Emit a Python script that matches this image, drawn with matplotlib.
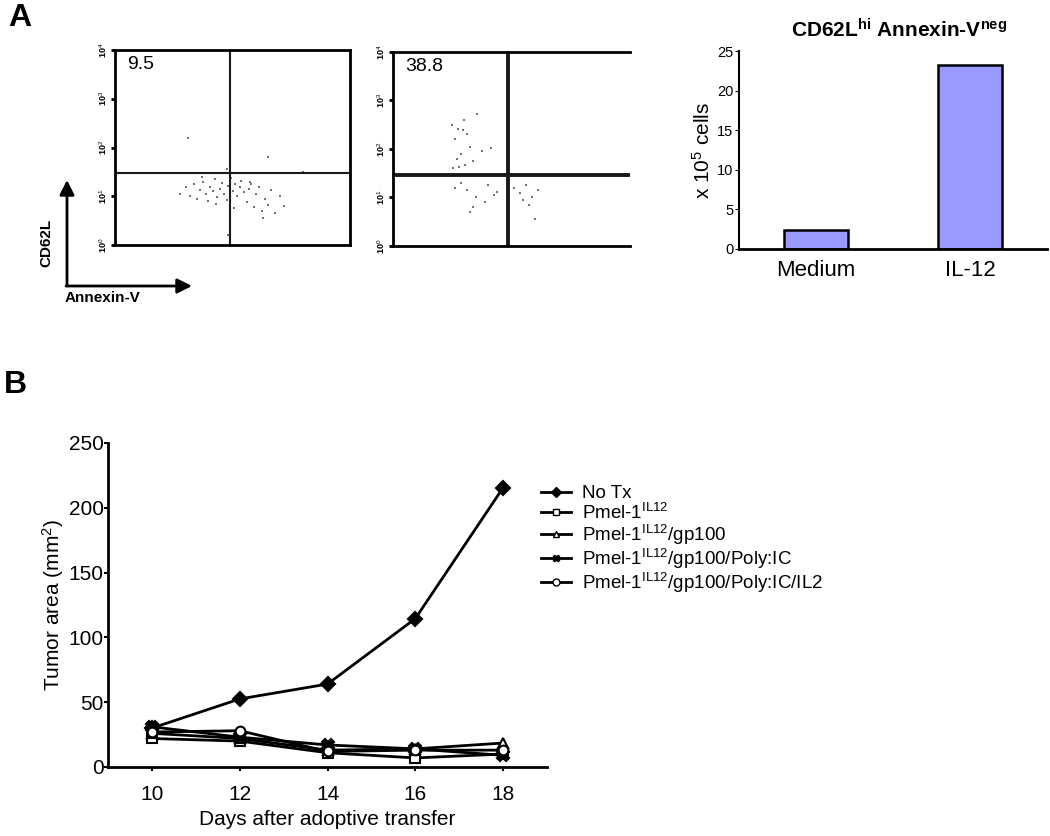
import numpy as np
import matplotlib
matplotlib.use("Agg")
import matplotlib.pyplot as plt
from matplotlib.lines import Line2D

plt.rcParams['font.family'] = ['Liberation Sans', 'DejaVu Sans']
plt.rcParams['mathtext.fontset'] = 'custom'
plt.rcParams['mathtext.rm'] = 'Liberation Sans'
plt.rcParams['mathtext.it'] = 'Liberation Sans'
plt.rcParams['mathtext.bf'] = 'Liberation Sans:bold'

# ---------------------------------------------------------
# Data
# ---------------------------------------------------------
# flow plots (log decades 0..4), quadrant percentages
flow1_pct = "9.5"
flow2_pct = "38.8"
flow1_gate = (1.96, 1.48)
flow2_gate = (1.94, 1.46)
flow1_x = [1.10, 1.20, 1.28, 1.35, 1.40, 1.45, 1.50, 1.55, 1.58, 1.62, 1.66, 1.70,
           1.74, 1.78, 1.82, 1.86, 1.90, 1.93, 1.97, 2.00, 2.04, 2.08, 2.12, 2.15,
           2.20, 2.24, 2.28, 2.32, 2.36, 2.40, 2.45, 2.50, 2.55, 2.60, 2.66, 2.72,
           2.80, 2.88, 1.48, 1.72, 2.02, 2.30, 2.52, 1.90, 3.20, 1.25, 2.60, 1.92]
flow1_y = [1.05, 1.18, 1.00, 1.25, 0.95, 1.12, 1.30, 1.05, 0.90, 1.20, 1.10, 1.35,
           0.98, 1.15, 1.28, 1.05, 0.92, 1.22, 1.38, 1.10, 1.25, 1.00, 1.18, 1.32,
           1.08, 0.88, 1.15, 1.25, 0.78, 1.05, 1.20, 0.70, 0.95, 0.82, 1.12, 0.65,
           1.00, 0.80, 1.40, 0.85, 0.75, 1.30, 0.55, 1.55, 1.50, 2.20, 1.80, 0.20]
flow2_x = [1.00, 1.10, 1.18, 1.05, 1.25, 1.42, 1.15, 1.30, 1.08, 1.22, 1.65, 1.12,
           1.35, 1.02, 1.20, 1.50, 1.05, 1.25, 1.40, 1.60, 1.70, 1.75, 1.55, 1.35,
           1.15, 2.15, 2.25, 2.35, 2.45, 2.30, 2.20, 2.05, 1.30, 2.40]
flow2_y = [2.50, 2.42, 2.40, 2.20, 2.30, 2.72, 1.90, 2.05, 1.80, 1.68, 2.02, 1.63,
           1.75, 1.60, 2.60, 1.95, 1.20, 1.15, 1.00, 1.25, 1.05, 1.12, 0.90, 0.80,
           1.30, 1.10, 1.25, 1.00, 1.15, 0.85, 0.95, 1.20, 0.70, 0.55]
decades = [0, 1, 2, 3, 4]

# bar chart
bar_groups = ["Medium", "IL-12"]
bar_values = [2.4, 23.2]

# tumor growth
days = [10, 12, 14, 16, 18]
series_names = ["No Tx",
                "Pmel-1$^{\\mathrm{IL12}}$",
                "Pmel-1$^{\\mathrm{IL12}}$/gp100",
                "Pmel-1$^{\\mathrm{IL12}}$/gp100/Poly:IC",
                "Pmel-1$^{\\mathrm{IL12}}$/gp100/Poly:IC/IL2"]
tumor_area = [
    [30, 52.5, 64, 114.5, 215.5],
    [22, 20, 11, 7, 10],
    [26, 22, 13, 14, 18.5],
    [31, 23, 17, 14, 9],
    [27, 28, 12, 13, 13],
]
markers = ['D', 's', '^', 'X', 'o']
marker_fill = ['black', 'white', 'white', 'black', 'white']

# ---------------------------------------------------------
# Figure
# ---------------------------------------------------------
W, H = 1050, 836
fig = plt.figure(figsize=(W / 100, H / 100), dpi=100)


def box(x0, y0, x1, y1):
    # pixel box -> figure fraction rect
    return [x0 / W, 1 - y1 / H, (x1 - x0) / W, (y1 - y0) / H]


def px(x, y):
    return (x / W, 1 - y / H)


# ---- flow plots ----
def flow_panel(rect, xs, ys, gate, pct, right_spine, lw):
    ax = fig.add_axes(rect)
    ax.set_xlim(0, 4)
    ax.set_ylim(0, 4)
    ax.scatter(xs, ys, s=4, c='0.45', marker='s', linewidths=0)
    ax.axvline(gate[0], color='0.1', lw=lw)
    ax.axhline(gate[1], color='0.1', lw=lw)
    for s in ax.spines.values():
        s.set_linewidth(2)
    ax.spines['right'].set_visible(right_spine)
    ax.set_xticks([])
    ax.set_yticks(decades)
    ax.set_yticklabels(["10$^{%d}$" % d for d in decades], fontsize=6.5,
                       fontweight='bold', rotation=90, va='center')
    ax.tick_params(axis='y', length=3, width=2, pad=1)
    ax.text(0.05, 0.97, pct, transform=ax.transAxes, fontsize=14,
            va='top', ha='left')
    return ax


flow_panel(box(115, 50, 350, 245), flow1_x, flow1_y, flow1_gate, flow1_pct, True, 1.5)
flow_panel(box(393, 52, 630, 246), flow2_x, flow2_y, flow2_gate, flow2_pct, False, 2.8)

# axis arrows
arrow = dict(arrowstyle='-|>', color='black', lw=2, mutation_scale=22,
             shrinkA=0, shrinkB=0)
fig.add_artist(matplotlib.patches.FancyArrowPatch(px(67, 286), px(67, 180),
                                                  transform=fig.transFigure, **arrow))
fig.add_artist(matplotlib.patches.FancyArrowPatch(px(66, 286), px(192, 286),
                                                  transform=fig.transFigure, **arrow))
fig.text(*px(46, 243), "CD62L", rotation=90, fontsize=11, fontweight='bold',
         ha='center', va='center')
fig.text(*px(65, 298), "Annexin-V", fontsize=11, fontweight='bold',
         ha='left', va='center')

# ---- bar chart ----
axb = fig.add_axes(box(739, 51, 1047, 249))
xb = np.arange(len(bar_groups))
axb.bar(xb, bar_values, width=0.41, color='#9999ff', edgecolor='black', linewidth=1.8)
axb.set_xlim(-0.5, 1.5)
axb.set_ylim(0, 25)
axb.set_yticks([0, 5, 10, 15, 20, 25])
axb.set_xticks(xb)
axb.set_xticklabels(bar_groups, fontsize=16)
axb.tick_params(axis='x', length=0, pad=8)
axb.tick_params(axis='y', labelsize=10.5, length=3, pad=1)
for s in ['top', 'right']:
    axb.spines[s].set_visible(False)
axb.spines['left'].set_linewidth(1.5)
axb.spines['bottom'].set_linewidth(2)
axb.set_ylabel("x 10$^5$ cells", fontsize=15, labelpad=2)
axb.set_title("CD62L$^{\\mathbf{hi}}$ Annexin-V$^{\\mathbf{neg}}$", fontsize=15,
              fontweight='bold', pad=10, x=0.52)

# ---- tumor growth ----
axt = fig.add_axes(box(108, 443, 547, 767))
for vals, name, m, fc in zip(tumor_area, series_names, markers, marker_fill):
    axt.plot(days, vals, color='black', lw=2, marker=m, markersize=7 if m != 'X' else 8,
             markerfacecolor=fc, markeredgecolor='black', markeredgewidth=1.5,
             label=name)
axt.set_xlim(9, 19)
axt.set_ylim(0, 250)
axt.set_xticks(days)
axt.set_yticks([0, 50, 100, 150, 200, 250])
axt.tick_params(axis='both', labelsize=15, length=3, width=1.5)
axt.tick_params(axis='y', pad=0)
axt.tick_params(axis='x', pad=10)
for s in ['top', 'right']:
    axt.spines[s].set_visible(False)
axt.spines['left'].set_linewidth(2)
axt.spines['bottom'].set_linewidth(2)
axt.set_xlabel("Days after adoptive transfer", fontsize=15, labelpad=4)
axt.set_ylabel("Tumor area (mm$^2$)", fontsize=15, labelpad=2)

handles = [Line2D([], [], color='black', lw=2, marker=m, markersize=5,
                  markerfacecolor=fc, markeredgecolor='black')
           for m, fc in zip(markers, marker_fill)]
fig.legend(handles, series_names, loc='upper left', bbox_to_anchor=px(532, 476),
           frameon=False, fontsize=13.5, handlelength=1.6, handletextpad=0.55,
           labelspacing=0.0, borderpad=0)

# panel letters
fig.text(*px(8, 18), "A", fontsize=23, fontweight='bold', va='center', ha='left')
fig.text(*px(4, 385), "B", fontsize=23, fontweight='bold', va='center', ha='left')

fig.savefig("out.png", dpi=100)
